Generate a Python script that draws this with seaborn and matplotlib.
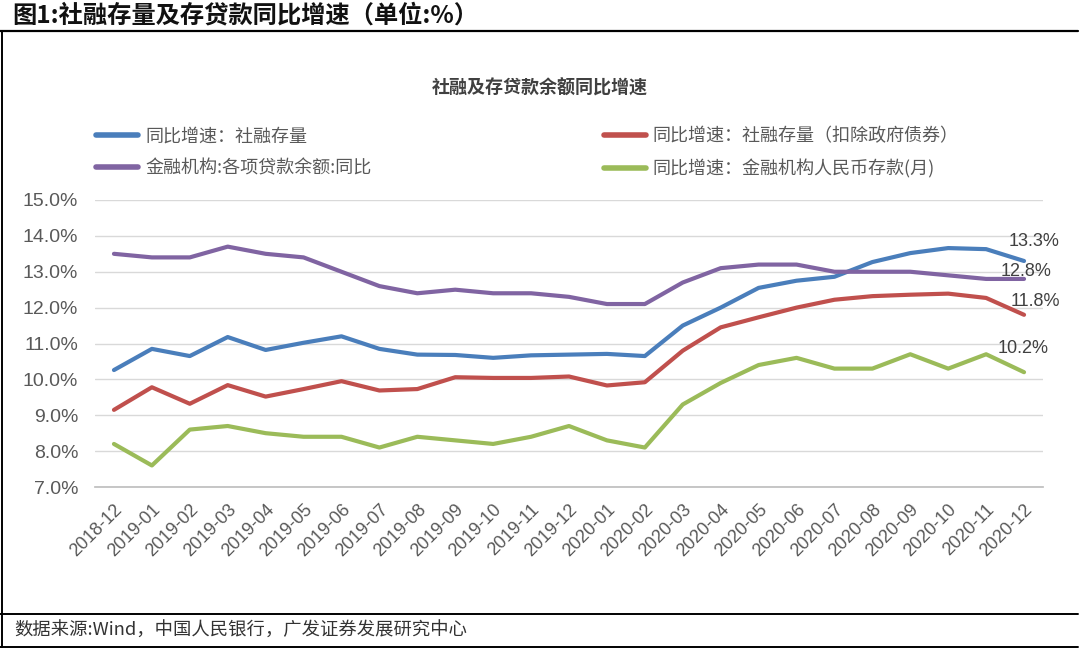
import matplotlib.pyplot as plt
import numpy as np
import pandas as pd
import seaborn as sns
from matplotlib.lines import Line2D
from matplotlib.ticker import FixedLocator, PercentFormatter

months = [
    "2018-12", "2019-01", "2019-02", "2019-03", "2019-04", "2019-05", "2019-06",
    "2019-07", "2019-08", "2019-09", "2019-10", "2019-11", "2019-12", "2020-01",
    "2020-02", "2020-03", "2020-04", "2020-05", "2020-06", "2020-07", "2020-08",
    "2020-09", "2020-10", "2020-11", "2020-12",
]
tsf_stock = [
    10.26, 10.85, 10.65, 11.18, 10.82, 11.02, 11.20, 10.85, 10.69, 10.68, 10.60,
    10.67, 10.69, 10.71, 10.65, 11.50, 12.00, 12.55, 12.75, 12.86, 13.27, 13.52,
    13.66, 13.63, 13.30,
]
tsf_ex_gov = [
    9.15, 9.78, 9.32, 9.84, 9.52, 9.73, 9.95, 9.69, 9.73, 10.06, 10.04, 10.04,
    10.08, 9.83, 9.92, 10.80, 11.45, 11.73, 12.00, 12.22, 12.32, 12.36, 12.39,
    12.27, 11.80,
]
loans = [
    13.5, 13.4, 13.4, 13.7, 13.5, 13.4, 13.0, 12.6, 12.4, 12.5, 12.4, 12.4, 12.3,
    12.1, 12.1, 12.7, 13.1, 13.2, 13.2, 13.0, 13.0, 13.0, 12.9, 12.8, 12.8,
]
deposits = [
    8.2, 7.6, 8.6, 8.7, 8.5, 8.4, 8.4, 8.1, 8.4, 8.3, 8.2, 8.4, 8.7, 8.3, 8.1,
    9.3, 9.9, 10.4, 10.6, 10.3, 10.3, 10.7, 10.3, 10.7, 10.2,
]

series_names = [
    "同比增速：社融存量",
    "金融机构:各项贷款余额:同比",
    "同比增速：社融存量（扣除政府债券）",
    "同比增速：金融机构人民币存款(月)",
]
series_values = [tsf_stock, loans, tsf_ex_gov, deposits]
colors = ["#4A7EBB", "#8064A2", "#C0504D", "#9BBB59"]
end_labels = ["13.3%", "12.8%", "11.8%", "10.2%"]
label_offsets = [(10, 19), (2, 7), (11, 13), (-1, 24)]

df = pd.concat(
    [
        pd.DataFrame({"idx": np.arange(len(months)), "value": vals, "series": name})
        for name, vals in zip(series_names, series_values)
    ],
    ignore_index=True,
)

sns.set_theme(style="white")
plt.rcParams["font.family"] = ["Liberation Sans", "Noto Sans CJK SC", "DejaVu Sans"]
cjk = ["Noto Sans CJK SC", "DejaVu Sans"]

fig = plt.figure(figsize=(10.8, 6.48), dpi=100)
ax = fig.add_axes([95 / 1080, 1 - 487 / 648, 948 / 1080, 287 / 648])

sns.lineplot(
    data=df,
    x="idx",
    y="value",
    hue="series",
    hue_order=series_names,
    palette=colors,
    linewidth=3,
    ax=ax,
    legend=False,
)

ax.set_xlim(-0.5, len(months) - 0.5)
ax.set_ylim(7, 15)
ax.set_yticks(np.arange(7, 15.1, 1))
ax.yaxis.set_major_formatter(PercentFormatter(decimals=1))
ax.yaxis.grid(True, color="#D9D9D9", linewidth=1)
ax.set_xticks(np.arange(len(months)))
ax.set_xticklabels(months, rotation=45, ha="right", rotation_mode="anchor")
ax.xaxis.set_minor_locator(FixedLocator(np.arange(-0.5, len(months), 1)))
ax.tick_params(axis="x", which="major", length=0, pad=10, labelsize=13, labelcolor="#595959")
ax.tick_params(axis="x", which="minor", length=6, color="#BFBFBF", width=1)
ax.tick_params(axis="y", length=0, labelsize=14, labelcolor="#595959", pad=12)
ax.set_xlabel("")
ax.set_ylabel("")
for side in ["top", "right", "left"]:
    ax.spines[side].set_visible(False)
ax.spines["bottom"].set_color("#BFBFBF")

for vals, text, off in zip(series_values, end_labels, label_offsets):
    ax.annotate(
        text,
        xy=(len(months) - 1, vals[-1]),
        xytext=off,
        textcoords="offset pixels",
        ha="center",
        va="center",
        fontsize=13,
        color="#404040",
    )

handles = [Line2D([], [], color=c, linewidth=4) for c in colors]
fig.legend(
    handles,
    series_names,
    loc="upper left",
    bbox_to_anchor=(80 / 1080, 1 - 111 / 648),
    ncol=2,
    frameon=False,
    handlelength=2.3,
    handletextpad=0.4,
    columnspacing=12.9,
    labelspacing=0.78,
    prop={"family": cjk, "size": 13},
    labelcolor="#595959",
)

fig.text(540 / 1080, 1 - 88 / 648, "社融及存贷款余额同比增速", ha="center", va="center",
         fontsize=13, fontweight="bold", color="#404040", family=cjk)
fig.text(12 / 1080, 1 - 15 / 648, "图1:社融存量及存贷款同比增速（单位:%）", ha="left", va="center",
         fontsize=17.5, fontweight="bold", color="#111111", family=cjk)
fig.text(14 / 1080, 1 - 631 / 648, "数据来源:Wind，中国人民银行，广发证券发展研究中心", ha="left",
         va="center", fontsize=13.2, color="#333333", family=cjk)

fig.add_artist(Line2D([0, 0.998], [1 - 31 / 648] * 2, color="black", linewidth=1.6,
                      transform=fig.transFigure))
fig.add_artist(Line2D([0, 0.998], [1 - 614 / 648] * 2, color="black", linewidth=1.4,
                      transform=fig.transFigure))
fig.add_artist(Line2D([0, 0.998], [0.002] * 2, color="black", linewidth=1.4,
                      transform=fig.transFigure))
fig.add_artist(Line2D([0.002] * 2, [0, 1 - 31 / 648], color="black", linewidth=1.4,
                      transform=fig.transFigure))

fig.savefig("out.png", dpi=100)
